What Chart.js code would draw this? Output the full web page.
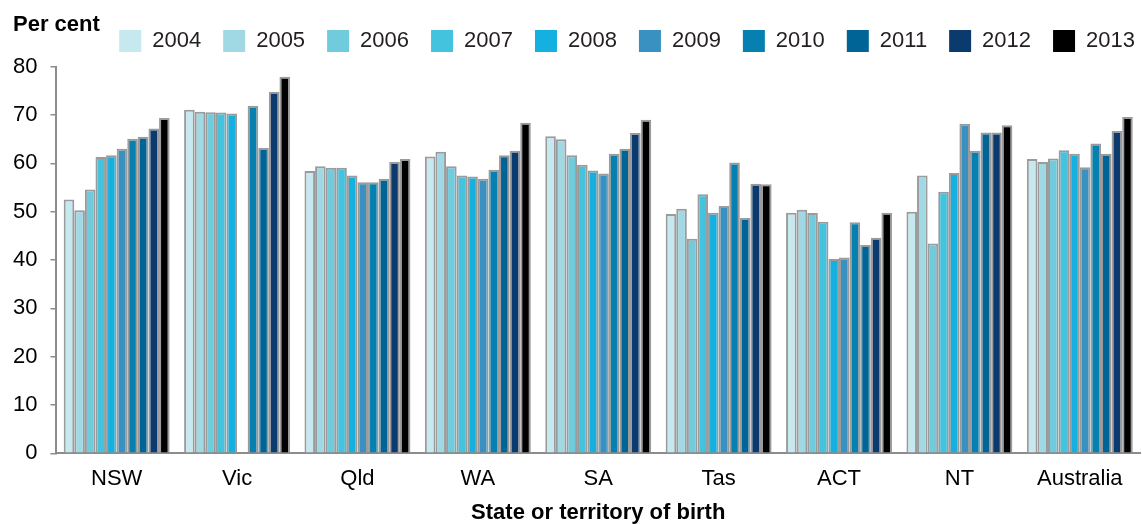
<!DOCTYPE html>
<html>
<head>
	<title>State or territory of birth</title>
	<style>
        body { margin: 0; background: #ffffff; }
        #wrap { width: 1142px; height: 524px; }
    </style>
</head>
<body>
<div id="wrap"><canvas id="myChart" width="1142" height="524"></canvas></div>
<script src="https://cdn.jsdelivr.net/npm/chart.js@4/dist/chart.umd.min.js"></script>
<script type="text/javascript">

	var states = ['NSW', 'Vic', 'Qld', 'WA', 'SA', 'Tas', 'ACT', 'NT', 'Australia'];
	var years = ['2004', '2005', '2006', '2007', '2008', '2009', '2010', '2011', '2012', '2013'];

	// per cent, one array per year, in the order of states
	var y2004 = [52.5, 71.1, 58.4, 61.4, 65.6, 49.5, 49.8, 50.0, 60.9];
	var y2005 = [50.3, 70.7, 59.4, 62.4, 65.0, 50.6, 50.4, 57.5, 60.3];
	var y2006 = [54.6, 70.6, 59.1, 59.4, 61.7, 44.4, 49.7, 43.4, 61.0];
	var y2007 = [61.3, 70.5, 59.1, 57.5, 59.7, 53.6, 47.9, 54.1, 62.7];
	var y2008 = [61.7, 70.3, 57.5, 57.3, 58.5, 49.8, 40.2, 58.0, 62.0];
	var y2009 = [63.0, null, 56.1, 56.8, 57.9, 51.2, 40.5, 68.2, 59.2];
	var y2010 = [65.1, 71.9, 56.1, 58.7, 62.0, 60.2, 47.8, 62.6, 64.1];
	var y2011 = [65.5, 63.2, 56.8, 61.7, 63.0, 48.7, 43.1, 66.4, 62.0];
	var y2012 = [67.2, 74.8, 60.3, 62.6, 66.3, 55.8, 44.6, 66.4, 66.7];
	var y2013 = [69.4, 77.9, 60.9, 68.4, 69.0, 55.7, 49.8, 67.9, 69.6];

	var yTicks = [0, 10, 20, 30, 40, 50, 60, 70, 80];

	var series = [y2004, y2005, y2006, y2007, y2008, y2009, y2010, y2011, y2012, y2013];
	var colours = ['#c6e8ef', '#a0d9e4', '#70cbdd', '#43c3de', '#14b1e0',
	               '#3891c1', '#0580b0', '#006496', '#0b3a6f', '#000000'];

	var FONT = '"Liberation Sans", Arial, sans-serif';
	Chart.defaults.font.family = FONT;
	Chart.defaults.color = '#231f20';

	var datasets = [];
	for (var i = 0; i < series.length; i++) {
		datasets.push({
			label: years[i],
			data: series[i],
			backgroundColor: colours[i],
			borderColor: '#9b9b9b',
			borderWidth: 2,
			borderSkipped: 'start',
			categoryPercentage: 0.88,
			barPercentage: 1.0
		});
	}

	// "Per cent" label and small legend nudges
	var extras = {
		id: 'extras',
		afterLayout: function (chart) {
			var lg = chart.legend;
			lg.top = 8;
			lg.right = lg.right + 17;
		},
		afterDraw: function (chart) {
			var ctx = chart.ctx;
			ctx.save();
			ctx.font = 'bold 22px ' + FONT;
			ctx.fillStyle = '#000000';
			ctx.textAlign = 'left';
			ctx.textBaseline = 'alphabetic';
			ctx.fillText('Per cent', 13, 31);
			ctx.restore();
		}
	};

	var config = {
		type: 'bar',
		data: {
			labels: states,
			datasets: datasets
		},
		options: {
			responsive: false,
			animation: false,
			layout: { padding: { left: 0, right: 2, top: 12.7, bottom: 0 } },
			plugins: {
				legend: {
					position: 'top',
					align: 'end',
					labels: {
						boxWidth: 22,
						boxHeight: 22,
						padding: 22,
						color: '#231f20',
						font: { size: 22 },
						generateLabels: function (chart) {
							var items = Chart.defaults.plugins.legend.labels.generateLabels(chart);
							items.forEach(function (it) {
								it.lineWidth = 0;
								it.strokeStyle = 'rgba(0,0,0,0)';
							});
							return items;
						}
					}
				},
				tooltip: { enabled: false }
			},
			scales: {
				x: {
					grid: { display: false, drawTicks: false },
					border: { display: true, color: '#8c8c8c', width: 2 },
					ticks: { padding: 12.5, color: '#000000', font: { size: 22 } },
					title: {
						display: true,
						text: 'State or territory of birth',
						color: '#000000',
						font: { size: 22, weight: 'bold', lineHeight: 1 },
						padding: { top: -2.7, bottom: 0 }
					}
				},
				y: {
					min: 0,
					max: 80,
					afterBuildTicks: function (axis) {
						axis.ticks = yTicks.map(function (v) { return { value: v }; });
					},
					grid: {
						drawOnChartArea: false,
						drawTicks: true,
						tickLength: 6,
						color: '#8c8c8c',
						lineWidth: 1.5
					},
					border: { display: true, color: '#8c8c8c', width: 2 },
					ticks: { padding: 13, color: '#000000', font: { size: 22 } }
				}
			}
		},
		plugins: [extras]
	};

	window.onload = function () {
		var ctx = document.getElementById('myChart').getContext('2d');
		window.myBar = new Chart(ctx, config);
	};

</script>
</body>
</html>
